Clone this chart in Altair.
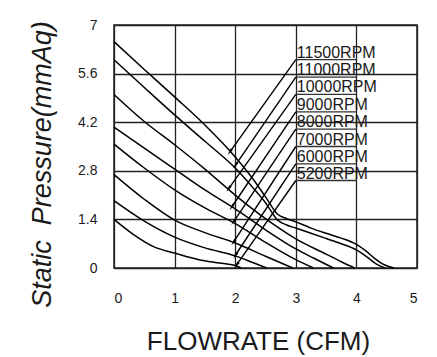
import altair as alt
import pandas as pd

# ---------------- data ----------------
rpm_labels = ["11500RPM", "11000RPM", "10000RPM", "9000RPM",
              "8000RPM", "7000RPM", "6000RPM", "5200RPM"]

flow_11500 = [0, 0.5, 1, 1.5, 2, 2.3, 2.5, 2.7, 2.85, 3, 3.25, 3.5, 3.75, 4, 4.15, 4.3, 4.45, 4.62]
pres_11500 = [6.52, 5.72, 4.93, 4.12, 3.2, 2.55, 2.05, 1.55, 1.42, 1.33, 1.15, 1.0, 0.86, 0.68, 0.5, 0.28, 0.1, 0]

flow_11000 = [0, 0.5, 1, 1.5, 2, 2.3, 2.5, 2.7, 2.85, 3, 3.25, 3.5, 3.75, 4, 4.15, 4.3, 4.47]
pres_11000 = [6.0, 5.2, 4.41, 3.65, 2.88, 2.3, 1.88, 1.38, 1.24, 1.15, 1.0, 0.85, 0.7, 0.52, 0.35, 0.15, 0]

flow_10000 = [0, 0.5, 1, 1.5, 2, 2.5, 3, 3.5, 3.75, 3.97]
pres_10000 = [5.0, 4.22, 3.55, 2.85, 2.1, 1.42, 0.84, 0.4, 0.18, 0]

flow_9000 = [0, 0.5, 1, 1.5, 2, 2.5, 3, 3.3, 3.62]
pres_9000 = [4.06, 3.45, 2.85, 2.25, 1.7, 1.1, 0.55, 0.28, 0]

flow_8000 = [0, 0.5, 1, 1.5, 2, 2.5, 3, 3.29]
pres_8000 = [3.57, 2.88, 2.25, 1.73, 1.28, 0.74, 0.24, 0]

flow_7000 = [0, 0.5, 1, 1.5, 2, 2.5, 2.95]
pres_7000 = [2.69, 1.98, 1.38, 1.02, 0.72, 0.34, 0]

flow_6000 = [0, 0.5, 1, 1.5, 2, 2.3, 2.52]
pres_6000 = [1.94, 1.35, 0.89, 0.58, 0.35, 0.15, 0]

flow_5200 = [0, 0.3, 0.67, 1, 1.4, 1.7, 2.0, 2.1]
pres_5200 = [1.4, 0.99, 0.6, 0.43, 0.24, 0.15, 0.07, 0]

# label underline heights, leader start / end (arrow tips)
label_y = [6.0, 5.5, 5.0, 4.5, 4.0, 3.5, 3.0, 2.52]
label_x_start = [3, 3, 3, 3, 3, 3, 3, 3]
label_x_end = [4, 4, 4, 4, 4, 4, 4, 4]
tip_x = [1.91, 2.0, 1.89, 1.94, 1.97, 1.97, 2.0, 2.02]
tip_y = [3.34, 2.95, 2.28, 1.75, 1.32, 0.74, 0.36, 0.08]

x_ticks = [0, 1, 2, 3, 4, 5]
y_ticks = [0, 1.4, 2.8, 4.2, 5.6, 7]

# ---------------- tables ----------------
series = [
    ("11500RPM", flow_11500, pres_11500),
    ("11000RPM", flow_11000, pres_11000),
    ("10000RPM", flow_10000, pres_10000),
    ("9000RPM", flow_9000, pres_9000),
    ("8000RPM", flow_8000, pres_8000),
    ("7000RPM", flow_7000, pres_7000),
    ("6000RPM", flow_6000, pres_6000),
    ("5200RPM", flow_5200, pres_5200),
]
rows = []
for name, fl, pr in series:
    for i, (a, b) in enumerate(zip(fl, pr)):
        rows.append({"s": name, "x": a, "y": b, "o": i})
curves_df = pd.DataFrame(rows)

lab_df = pd.DataFrame({
    "s": rpm_labels, "y": label_y, "x": label_x_start, "x2": label_x_end,
    "tx": tip_x, "ty": tip_y,
})

FONT = "Liberation Sans"
INK = "#1a1a1a"

x_scale = alt.Scale(domain=[0, 5], nice=False, zero=False)
y_scale = alt.Scale(domain=[0, 7], nice=False, zero=False)

x_axis = alt.Axis(
    values=x_ticks, labelExpr="datum.value + ''", grid=True, domain=False, ticks=False,
    labelPadding=23, labelFontSize=14, labelFont=FONT, labelColor=INK,
    title="FLOWRATE (CFM)", titleFont=FONT, titleFontSize=26,
    titleFontWeight="normal", titleColor=INK,
    titleX=144, titleY=81, titleAlign="center", titleBaseline="alphabetic",
)
y_axis = alt.Axis(
    values=y_ticks, labelExpr="datum.value + ''", grid=True, domain=False, ticks=False,
    labelPadding=17, labelFontSize=14, labelFont=FONT, labelColor=INK,
    title="Static\u00a0\u00a0Pressure(mmAq)", titleFont=FONT, titleFontSize=27,
    titleFontStyle="italic", titleFontWeight="normal", titleColor=INK,
    titleAngle=270, titleX=-64, titleY=139, titleAlign="center",
    titleBaseline="alphabetic",
)


def X(field):
    return alt.X(field, type="quantitative", scale=x_scale, axis=x_axis)


def Y(field):
    return alt.Y(field, type="quantitative", scale=y_scale, axis=y_axis)


curves = alt.Chart(curves_df).mark_line(
    color="#000", strokeWidth=1.5, interpolate="monotone"
).encode(x=X("x"), y=Y("y"), detail="s:N", order="o:Q")

underlines = alt.Chart(lab_df).mark_rule(color="#333", strokeWidth=1.3).encode(
    x=X("x"), x2="x2:Q", y=Y("y")
)

leaders = alt.Chart(lab_df).mark_rule(color="#000", strokeWidth=1.4).encode(
    x=X("x"), y=Y("y"), x2="tx:Q", y2="ty:Q"
)

arrows = alt.Chart(lab_df).mark_point(
    shape="M0,-1L0.4,1L-0.4,1Z", filled=True, color="#000", opacity=1,
    size=50, angle=215,
).encode(x=X("tx"), y=Y("ty"))

labels = alt.Chart(lab_df).mark_text(
    align="left", baseline="alphabetic", dx=1, dy=-2,
    font=FONT, fontSize=16, color=INK,
).encode(x=X("x"), y=Y("y"), text="s:N")

chart = alt.layer(curves, underlines, leaders, arrows, labels).properties(
    width=303, height=243,
    autosize=alt.AutoSizeParams(type="none"),
    padding={"left": 106, "top": 17, "right": 8, "bottom": 89},
).configure_view(
    stroke="#222", strokeWidth=1.5
).configure_axis(
    gridColor="#222", gridWidth=1.3, gridOpacity=1
)

chart.save("out.html", embed_options={"renderer": "svg", "actions": False})
